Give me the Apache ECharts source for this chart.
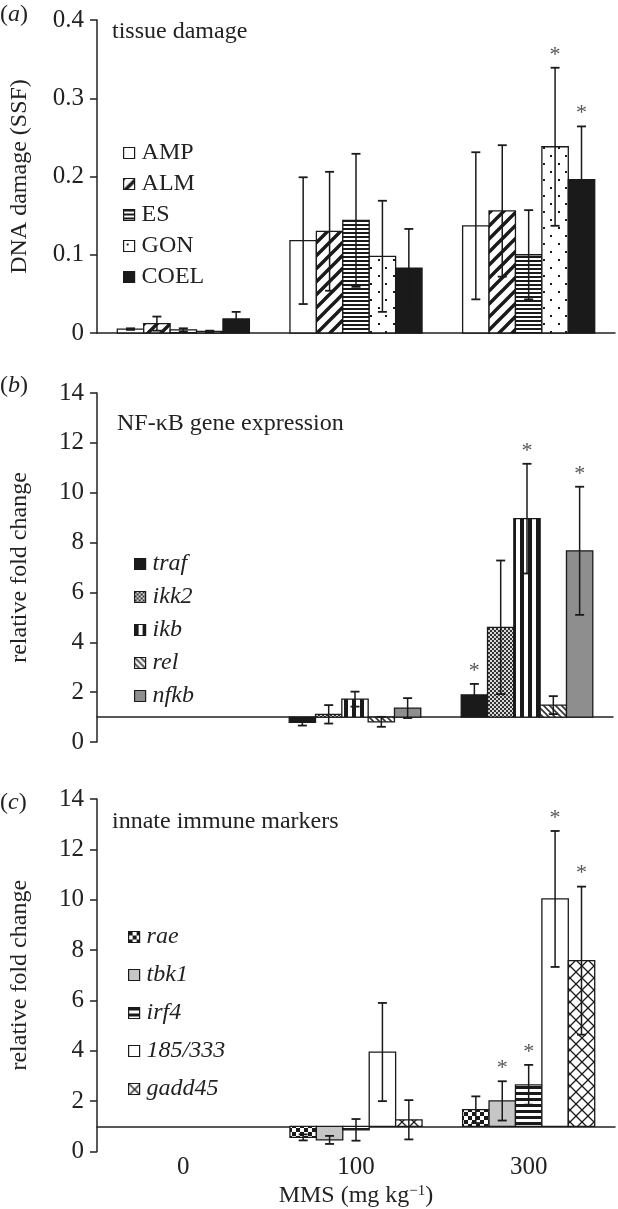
<!DOCTYPE html>
<html><head><meta charset="utf-8">
<script src="https://cdn.jsdelivr.net/npm/echarts@6/dist/echarts.min.js"></script>
<style>html,body{margin:0;padding:0;background:#fff}#c{width:618px;height:1209px}</style>
</head><body><div id="c"></div>
<script>
// ---------- DATA ----------
const categories = ['0', '100', '300'];

// Panel (a) DNA damage (SSF)
const namesA = ['AMP', 'ALM', 'ES', 'GON', 'COEL'];
const ampVal = [0.005, 0.118, 0.137], ampErr = [0.001, 0.081, 0.094], ampSig = [0, 0, 0];
const almVal = [0.012, 0.130, 0.156], almErr = [0.009, 0.076, 0.084], almSig = [0, 0, 0];
const esVal = [0.004, 0.144, 0.100], esErr = [0.002, 0.085, 0.057], esSig = [0, 0, 0];
const gonVal = [0.002, 0.098, 0.238], gonErr = [0.001, 0.071, 0.101], gonSig = [0, 0, 1];
const coelVal = [0.018, 0.083, 0.196], coelErr = [0.009, 0.050, 0.068], coelSig = [0, 0, 1];

// Panel (b) NF-kB gene expression (relative fold change)
const namesB = ['traf', 'ikk2', 'ikb', 'rel', 'nfkb'];
const trafVal = [null, 0.79, 1.89], trafErr = [null, 0.13, 0.44], trafSig = [0, 0, 1];
const ikk2Val = [null, 1.11, 4.60], ikk2Err = [null, 0.37, 2.68], ikk2Sig = [0, 0, 0];
const ikbVal = [null, 1.72, 8.96], ikbErr = [null, 0.30, 2.20], ikbSig = [0, 0, 1];
const relVal = [null, 0.81, 1.48], relErr = [null, 0.20, 0.36], relSig = [0, 0, 0];
const nfkbVal = [null, 1.36, 7.67], nfkbErr = [null, 0.40, 2.57], nfkbSig = [0, 0, 1];

// Panel (c) innate immune markers (relative fold change)
const namesC = ['rae', 'tbk1', 'irf4', '185/333', 'gadd45'];
const raeVal = [null, 0.56, 1.66], raeErr = [null, 0.12, 0.53], raeSig = [0, 0, 0];
const tbk1Val = [null, 0.46, 2.01], tbk1Err = [null, 0.16, 0.78], tbk1Sig = [0, 0, 1];
const irf4Val = [null, 0.86, 2.65], irf4Err = [null, 0.43, 0.79], irf4Sig = [0, 0, 1];
const r185Val = [null, 3.95, 10.03], r185Err = [null, 1.95, 2.70], r185Sig = [0, 0, 1];
const gaddVal = [null, 1.26, 7.58], gaddErr = [null, 0.78, 2.94], gaddSig = [0, 0, 1];

const yTicksA = { min: 0, max: 0.4, interval: 0.1 };
const yTicksBC = { min: 0, max: 14, interval: 2 };
const baseA = 0, baseBC = 1;

// ---------- STYLE ----------
const FONT = 'Liberation Serif';
const FS = 24;
const INK = '#1a1a1a';
function pat(w, h, draw, bg) {
  const c = document.createElement('canvas'); c.width = w; c.height = h;
  const g = c.getContext('2d'); g.fillStyle = bg || '#fff'; g.fillRect(0, 0, w, h);
  g.fillStyle = INK; g.strokeStyle = INK; draw(g, w, h);
  return { image: c, repeat: 'repeat' };
}
const fills = {
  white: '#ffffff',
  black: '#1a1a1a',
  diagFwd: pat(13, 13, (g) => { g.lineWidth = 3.4; g.beginPath();
    g.moveTo(-3, 16); g.lineTo(16, -3); g.moveTo(-10, 10); g.lineTo(10, -10); g.moveTo(3, 23); g.lineTo(23, 3); g.stroke(); }),
  hLines: pat(4, 4, (g) => { g.fillRect(0, 0, 4, 2); }),
  dots: pat(15, 16, (g) => { g.fillRect(3, 3, 2, 2); g.fillRect(10, 11, 2, 2); }),
  fineCheck: pat(4, 4, (g) => { g.fillStyle = '#333'; g.fillRect(0, 0, 2, 2); g.fillRect(2, 2, 2, 2); }, '#d8d8d8'),
  vLines: pat(8, 4, (g) => { g.fillRect(0, 0, 4, 4); }),
  diagBack: pat(6, 6, (g) => { g.lineWidth = 1.6; g.strokeStyle = '#333'; g.beginPath();
    g.moveTo(-1, -1); g.lineTo(7, 7); g.moveTo(-1, 5); g.lineTo(1, 7); g.moveTo(5, -1); g.lineTo(7, 1); g.stroke(); }),
  gray: '#8e8e8e',
  check: pat(8, 8, (g) => { g.fillRect(0, 0, 4, 4); g.fillRect(4, 4, 4, 4); }),
  light: '#c6c6c6',
  hThick: pat(4, 6, (g) => { g.fillRect(0, 0, 4, 3); }),
  lattice: pat(12, 12, (g) => { g.lineWidth = 1.3; g.beginPath();
    g.moveTo(0, 0); g.lineTo(12, 12); g.moveTo(0, 12); g.lineTo(12, 0); g.stroke(); })
};

const grids = [
  { left: 94, top: 20, width: 521, height: 313 },
  { left: 94, top: 393, width: 519, height: 349 },
  { left: 94, top: 799, width: 521, height: 353 }
];

function makeSeries(name, idx, vals, errs, sigs, fill, base, gi) {
  const data = [];
  vals.forEach((v, i) => { if (v != null) data.push([i, v, errs[i], sigs[i]]); });
  return {
    type: 'custom', name: name, xAxisIndex: gi, yAxisIndex: gi,
    itemStyle: { color: fill, borderColor: INK, borderWidth: 1.3 },
    encode: { x: 0, y: 1 },
    data: data,
    renderItem: function (params, api) {
      const ci = api.value(0), v = api.value(1), e = api.value(2), s = api.value(3);
      const band = api.size([1, 0])[0];
      const bw = band * 0.153;
      const pb = api.coord([ci, base]);
      const x0 = pb[0] - 2.5 * bw + idx * bw;
      const yv = api.coord([ci, v])[1];
      const yu = api.coord([ci, v + e])[1];
      const yl = api.coord([ci, v - e])[1];
      const xm = x0 + bw / 2, cap = 4.5;
      const children = [
        { type: 'rect', shape: { x: x0, y: Math.min(pb[1], yv), width: bw, height: Math.max(1, Math.abs(pb[1] - yv)) },
          style: { fill: fill, stroke: INK, lineWidth: 1.3 } },
        { type: 'line', shape: { x1: xm, y1: yu, x2: xm, y2: yl }, style: { stroke: INK, lineWidth: 1.5 } },
        { type: 'line', shape: { x1: xm - cap, y1: yu, x2: xm + cap, y2: yu }, style: { stroke: INK, lineWidth: 1.8 } },
        { type: 'line', shape: { x1: xm - cap, y1: yl, x2: xm + cap, y2: yl }, style: { stroke: INK, lineWidth: 1.8 } }
      ];
      if (s) children.push({ type: 'text', style: { text: '*', x: xm, y: yu - 2, align: 'center', verticalAlign: 'bottom',
        font: '22px "' + FONT + '"', fill: '#555' } });
      return { type: 'group', children: children };
    }
  };
}

const series = [
  makeSeries('AMP', 0, ampVal, ampErr, ampSig, fills.white, baseA, 0),
  makeSeries('ALM', 1, almVal, almErr, almSig, fills.diagFwd, baseA, 0),
  makeSeries('ES', 2, esVal, esErr, esSig, fills.hLines, baseA, 0),
  makeSeries('GON', 3, gonVal, gonErr, gonSig, fills.dots, baseA, 0),
  makeSeries('COEL', 4, coelVal, coelErr, coelSig, fills.black, baseA, 0),
  makeSeries('traf', 0, trafVal, trafErr, trafSig, fills.black, baseBC, 1),
  makeSeries('ikk2', 1, ikk2Val, ikk2Err, ikk2Sig, fills.fineCheck, baseBC, 1),
  makeSeries('ikb', 2, ikbVal, ikbErr, ikbSig, fills.vLines, baseBC, 1),
  makeSeries('rel', 3, relVal, relErr, relSig, fills.diagBack, baseBC, 1),
  makeSeries('nfkb', 4, nfkbVal, nfkbErr, nfkbSig, fills.gray, baseBC, 1),
  makeSeries('rae', 0, raeVal, raeErr, raeSig, fills.check, baseBC, 2),
  makeSeries('tbk1', 1, tbk1Val, tbk1Err, tbk1Sig, fills.light, baseBC, 2),
  makeSeries('irf4', 2, irf4Val, irf4Err, irf4Sig, fills.hThick, baseBC, 2),
  makeSeries('185/333', 3, r185Val, r185Err, r185Sig, fills.white, baseBC, 2),
  makeSeries('gadd45', 4, gaddVal, gaddErr, gaddSig, fills.lattice, baseBC, 2)
];

const axisLineStyle = { color: '#222', width: 1.5 };
const tickLabel = { fontFamily: FONT, fontSize: 25, color: '#222' };

function yAx(gi, t, name, fmt) {
  return {
    type: 'value', gridIndex: gi, min: t.min, max: t.max, interval: t.interval,
    name: name, nameLocation: 'middle', nameGap: 65, nameRotate: 90,
    nameTextStyle: { fontFamily: FONT, fontSize: FS, color: '#222' },
    axisLine: { show: true, lineStyle: axisLineStyle },
    axisTick: { show: true, length: 7, lineStyle: axisLineStyle },
    axisLabel: Object.assign({ margin: 13, formatter: fmt }, tickLabel),
    splitLine: { show: false }
  };
}
function offsetFor(gi) {
  return -grids[gi].height * (baseBC - yTicksBC.min) / (yTicksBC.max - yTicksBC.min);
}
const xAxes = [
  { type: 'category', gridIndex: 0, position: 'bottom', data: categories, axisLine: { lineStyle: axisLineStyle },
    axisTick: { length: 7, lineStyle: axisLineStyle }, axisLabel: { show: false } },
  { type: 'category', gridIndex: 1, position: 'bottom', data: categories, offset: offsetFor(1), axisLine: { lineStyle: axisLineStyle },
    axisTick: { length: 6, lineStyle: axisLineStyle }, axisLabel: { show: false } },
  { type: 'category', gridIndex: 2, position: 'bottom', data: categories, offset: offsetFor(2), axisLine: { lineStyle: axisLineStyle },
    axisTick: { length: 6, lineStyle: axisLineStyle }, axisLabel: { show: false } },
  { type: 'category', gridIndex: 2, position: 'bottom', data: categories, axisLine: { show: false }, axisTick: { show: false },
    axisLabel: Object.assign({ margin: 3 }, tickLabel),
    name: '{n|MMS (mg kg}{s|−1}{n|)}', nameLocation: 'middle', nameGap: 32,
    nameTextStyle: { rich: { n: { fontFamily: FONT, fontSize: FS, color: '#222' },
      s: { fontFamily: FONT, fontSize: 15, color: '#222', padding: [0, 0, 10, 0] } } } }
];

function legend(names, left, top, gap, italic) {
  return { data: names, orient: 'vertical', left: left, top: top, itemGap: gap, padding: 0,
    icon: 'rect', itemWidth: 11, itemHeight: 11, selectedMode: false,
    itemStyle: { borderColor: INK, borderWidth: 1.2 },
    textStyle: { fontFamily: FONT, fontSize: FS, color: '#222', fontStyle: italic ? 'italic' : 'normal', padding: [0, 0, 0, 2] } };
}
function letterTitle(l, top) {
  return { text: '{n|(}{i|' + l + '}{n|)}', left: 0, top: top, padding: 0,
    textStyle: { fontWeight: 'normal', rich: { n: { fontFamily: FONT, fontSize: FS, fontWeight: 'normal', color: '#222' },
      i: { fontFamily: FONT, fontSize: FS, fontStyle: 'italic', fontWeight: 'normal', color: '#222' } } } };
}
function panelTitle(t, left, top) {
  return { text: t, left: left, top: top, padding: 0,
    textStyle: { fontFamily: FONT, fontSize: FS, fontWeight: 'normal', color: '#222' } };
}

const option = {
  animation: false,
  backgroundColor: '#fff',
  grid: grids,
  title: [
    letterTitle('a', 3), letterTitle('b', 374), letterTitle('c', 791),
    panelTitle('tissue damage', 112, 20), panelTitle('NF-κB gene expression', 117, 412), panelTitle('innate immune markers', 112, 810)
  ],
  legend: [
    legend(namesA, 123, 141, 7, false),
    legend(namesB, 134, 552, 9, true),
    legend(namesC, 128, 925, 14, true)
  ],
  xAxis: xAxes,
  yAxis: [
    yAx(0, yTicksA, 'DNA damage (SSF)', (v) => v === 0 ? '0' : v.toFixed(1)),
    yAx(1, yTicksBC, 'relative fold change'),
    yAx(2, yTicksBC, 'relative fold change')
  ],
  series: series
};
const chart = echarts.init(document.getElementById('c'), null, { renderer: 'canvas' });
chart.setOption(option);
</script></body></html>
